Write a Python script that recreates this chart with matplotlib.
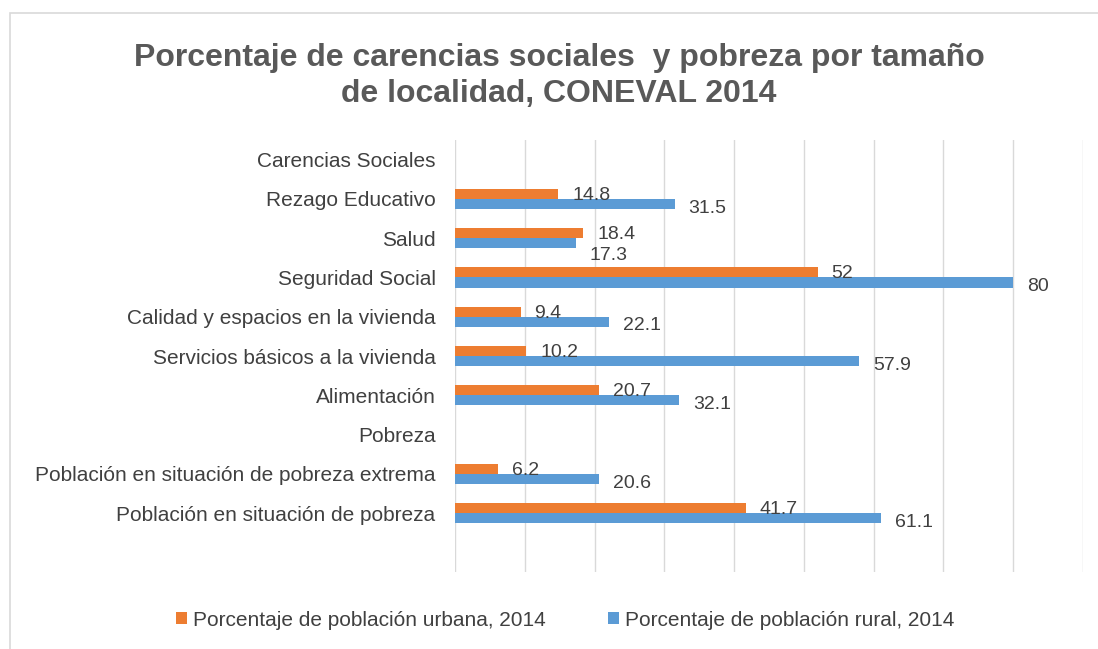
"""Carencias sociales y pobreza por tamaño de localidad (CONEVAL 2014)."""
import matplotlib.pyplot as plt
import numpy as np
from matplotlib.patches import Rectangle

FIG_DPI = 100
ORANGE = "#ED7D31"
BLUE = "#5B9BD5"
TEXT = "#404040"
GRID = "#D9D9D9"

categories = [
    "Carencias Sociales",
    "Rezago Educativo",
    "Salud",
    "Seguridad Social",
    "Calidad y espacios en la vivienda",
    "Servicios básicos a la vivienda",
    "Alimentación",
    "Pobreza",
    "Población en situación de pobreza extrema",
    "Población en situación de pobreza",
    "",
]
urbana = [np.nan, 14.8, 18.4, 52, 9.4, 10.2, 20.7, np.nan, 6.2, 41.7, np.nan]
rural = [np.nan, 31.5, 17.3, 80, 22.1, 57.9, 32.1, np.nan, 20.6, 61.1, np.nan]
label_urbana = "Porcentaje de población urbana, 2014"
label_rural = "Porcentaje de población rural, 2014"

plt.rcParams["font.family"] = ["Liberation Sans", "DejaVu Sans"]

fig = plt.figure(figsize=(1098 / FIG_DPI, 649 / FIG_DPI), dpi=FIG_DPI)
fig.patches.append(
    Rectangle((10 / 1098, -0.1), 1.2, 1.1 - 13 / 649, transform=fig.transFigure,
              fill=False, edgecolor=GRID, linewidth=1.2)
)
ax = fig.add_axes([455 / 1098, 1 - 572 / 649, (1083 - 455) / 1098, (572 - 140) / 649])

y = np.arange(len(categories))
h = 0.26
ax.barh(y - h / 2, urbana, height=h, color=ORANGE, label=label_urbana, zorder=3)
ax.barh(y + h / 2, rural, height=h, color=BLUE, label=label_rural, zorder=3)

for i, (u, r) in enumerate(zip(urbana, rural)):
    if not np.isnan(u):
        ax.annotate(f"{u:g}", (u, i - h / 2), xytext=(10, -1), textcoords="offset points",
                    va="center", ha="left", fontsize=14, color=TEXT)
    if not np.isnan(r):
        # Excel pushed the overlapping Salud label below the bar
        dy = -9 if categories[i] == "Salud" else -3
        ax.annotate(f"{r:g}", (r, i + h / 2), xytext=(10, dy), textcoords="offset points",
                    va="center", ha="left", fontsize=14, color=TEXT)

ax.set_xlim(0, 90)
ax.set_ylim(len(categories) - 0.5, -0.5)
ax.set_xticks(np.arange(0, 91, 10))
ax.set_xticklabels([])
ax.tick_params(axis="x", length=0)
ax.tick_params(axis="y", length=0, pad=14, labelsize=15, labelcolor=TEXT)
ax.set_yticks(y)
ax.set_yticklabels(categories)
ax.grid(axis="x", color=GRID, linewidth=1, zorder=0)
for spine in ax.spines.values():
    spine.set_visible(False)

fig.text(559 / 1098, 1 - 76 / 649, "Porcentaje de carencias sociales  y pobreza por tamaño\nde localidad, CONEVAL 2014",
         ha="center", va="center", fontsize=23, fontweight="bold", color="#595959",
         linespacing=1.3)

fig.legend(loc="center", bbox_to_anchor=(0.515, 1 - 620 / 649), ncol=2, frameon=False,
           fontsize=15, handlelength=0.5, handleheight=0.5, handletextpad=0.3,
           columnspacing=3.0, labelcolor=TEXT)

fig.savefig("out.png", dpi=FIG_DPI)
